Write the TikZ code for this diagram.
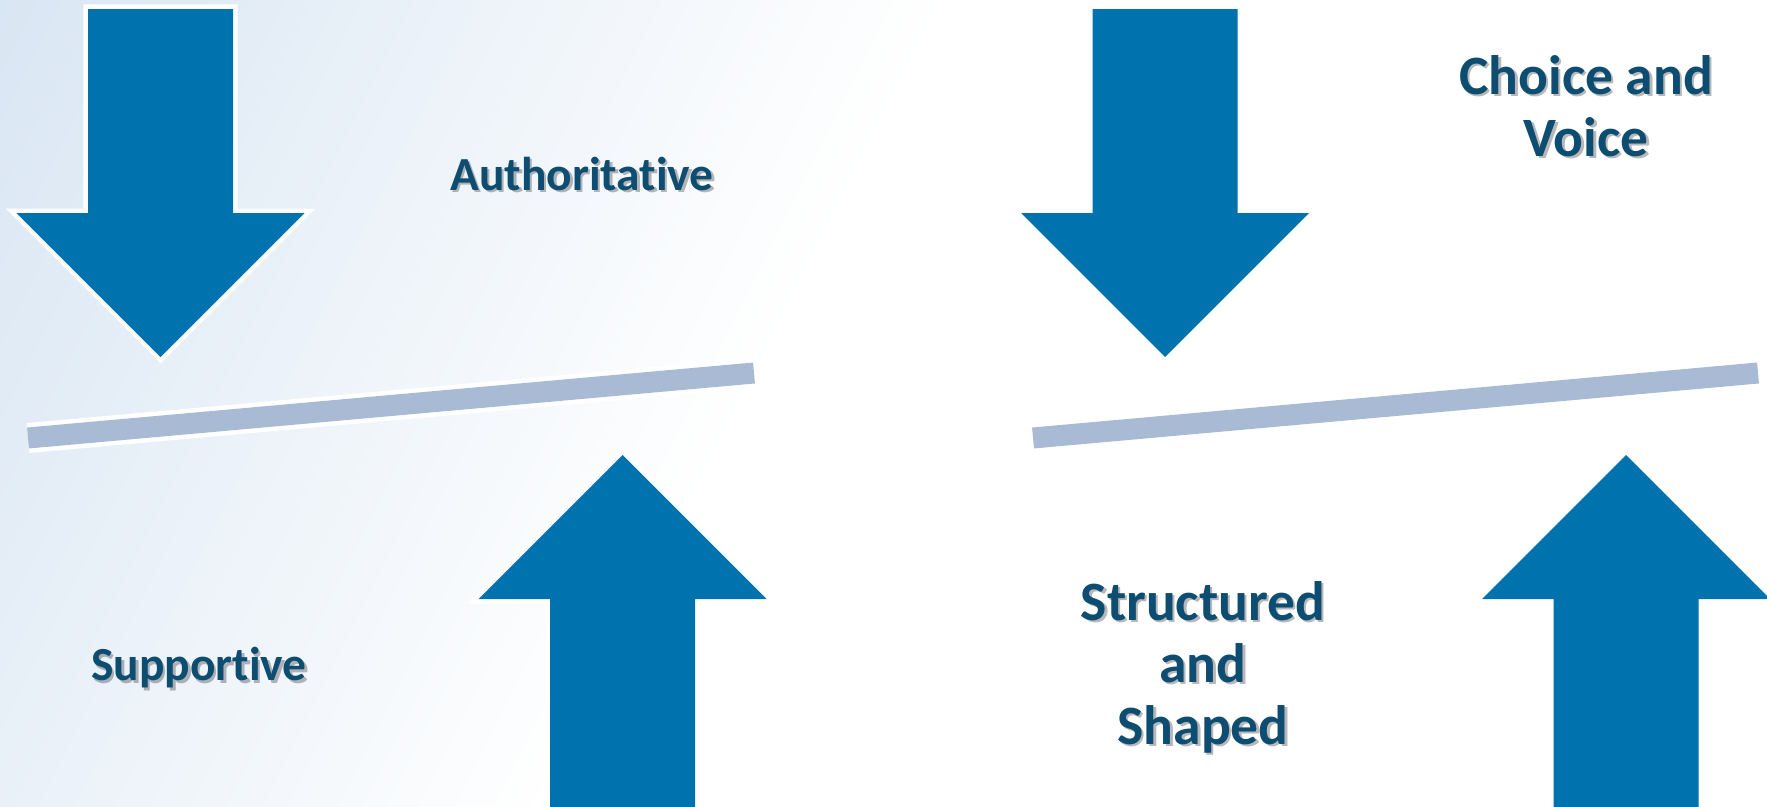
\documentclass[tikz,border=0pt]{standalone}
\usepackage{fontspec}
\newfontfamily\labelfont{Carlito}[Ligatures=NoCommon]
\usetikzlibrary{positioning}
\definecolor{arrowblue}{RGB}{0,114,174}
\definecolor{barblue}{RGB}{169,187,212}
\definecolor{inkblue}{RGB}{14,77,114}
\definecolor{washblue}{RGB}{217,230,243}
\definecolor{washmid}{RGB}{230,237,247}

\begin{document}
\begin{tikzpicture}[x=0.01cm, y=-0.01cm,
  arrowblock/.style={fill=arrowblue, line join=miter, preaction={draw=white, line width=0.09cm, line join=miter}},
  beam/.style={draw=barblue, line width=0.21cm, preaction={draw=white, line width=0.3cm}},
  tag/.style={font=\labelfont\bfseries, text=inkblue, align=center, inner sep=0pt},
  tagshadow/.style={tag, text=black, text opacity=0.28, xshift=0.025cm, yshift=-0.025cm},
  small/.style={font=\labelfont\bfseries\fontsize{13.5pt}{17.6pt}\selectfont},
  big/.style={font=\labelfont\bfseries\fontsize{15.8pt}{17.6pt}\selectfont},
]
\useasboundingbox (0,0) rectangle (1767,806);

% Background: white page with a pale blue wash on the left
\fill[white] (0,0) rectangle (1767,806);
\begin{scope}
  \clip (0,0) rectangle (1767,806);
  \begin{scope}[transform canvas={rotate=-26.4}]
    \shade[left color=washblue, middle color=washmid, right color=white] (0,-900) rectangle (851,900);
  \end{scope}

  % Left pair of arrows
  \foreach \cx in {160.5} {
    \fill[arrowblock] (\cx-72.5,9) -- (\cx+72.5,9) -- (\cx+72.5,213) -- (\cx+144,213)
      -- (\cx,357) -- (\cx-144,213) -- (\cx-72.5,213) -- cycle;
  }
  \foreach \cx in {622.5} {
    \fill[arrowblock] (\cx-72.5,830) -- (\cx-72.5,599) -- (\cx-144,599) -- (\cx,455)
      -- (\cx+144,599) -- (\cx+72.5,599) -- (\cx+72.5,830) -- cycle;
  }

  % Right pair of arrows
  \foreach \cx in {1165} {
    \fill[arrowblock] (\cx-72.5,9) -- (\cx+72.5,9) -- (\cx+72.5,213) -- (\cx+144,213)
      -- (\cx,357) -- (\cx-144,213) -- (\cx-72.5,213) -- cycle;
  }
  \foreach \cx in {1626} {
    \fill[arrowblock] (\cx-72.5,830) -- (\cx-72.5,599) -- (\cx-144,599) -- (\cx,455)
      -- (\cx+144,599) -- (\cx+72.5,599) -- (\cx+72.5,830) -- cycle;
  }
\end{scope}

% Tilted beams
\coordinate (leftBeamW) at (28,438);
\coordinate (leftBeamE) at (754,373);
\coordinate (rightBeamW) at (1033,438);
\coordinate (rightBeamE) at (1758,373);
\draw[beam] (leftBeamW) -- (leftBeamE);
\draw[beam] (rightBeamW) -- (rightBeamE);

% Labels (soft shadow first, then the text)
\coordinate (authPos) at (582,174);
\coordinate (suppPos) at (199,668);
\coordinate (choicePos) at (1586,106);
\coordinate (structPos) at (1203,667);

\node[tagshadow, small] (authShade) at (authPos) {Authoritative};
\node[tag, small] (auth) at (authPos) {Authoritative};

\node[tagshadow, small] (suppShade) at (suppPos) {Supportive};
\node[tag, small] (supp) at (suppPos) {Supportive};

\node[tagshadow, big] (choiceShade) at (choicePos) {Choice and\\Voice};
\node[tag, big] (choice) at (choicePos) {Choice and\\Voice};

\node[tagshadow, big] (structShade) at (structPos) {Structured\\and\\Shaped};
\node[tag, big] (struct) at (structPos) {Structured\\and\\Shaped};
\end{tikzpicture}
\end{document}
